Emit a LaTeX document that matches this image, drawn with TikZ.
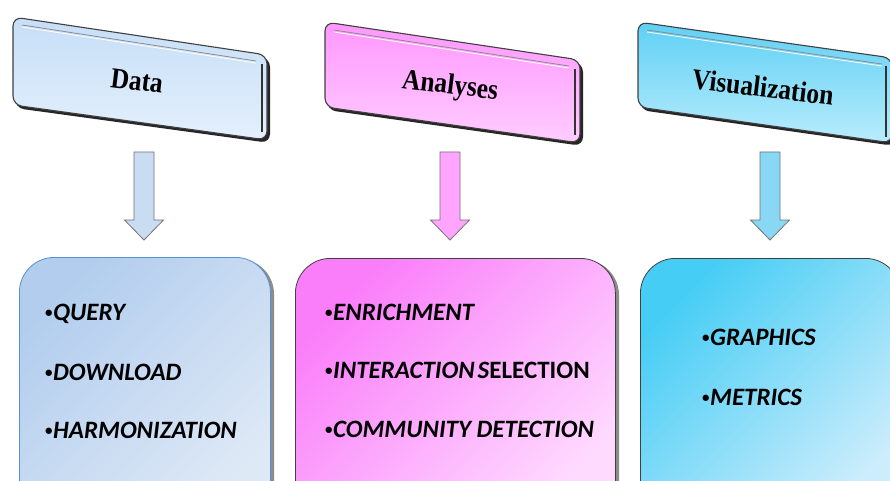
\documentclass[tikz,border=0pt]{standalone}
\usepackage{fontspec}
\setmainfont{Liberation Serif}
\newfontfamily\calib{Carlito}
\usetikzlibrary{calc}
\definecolor{dTopA}{RGB}{198,222,248}
\definecolor{dTopB}{RGB}{228,240,252}
\definecolor{aTopA}{RGB}{255,150,255}
\definecolor{aTopB}{RGB}{255,205,255}
\definecolor{vTopA}{RGB}{95,208,245}
\definecolor{vTopB}{RGB}{185,236,252}
\definecolor{dBotA}{RGB}{178,205,238}
\definecolor{dBotB}{RGB}{222,233,246}
\definecolor{aBotA}{RGB}{250,125,250}
\definecolor{aBotB}{RGB}{255,218,255}
\definecolor{vBotA}{RGB}{70,205,245}
\definecolor{vBotB}{RGB}{205,237,252}
\definecolor{dArr}{RGB}{200,220,242}
\definecolor{aArr}{RGB}{255,165,255}
\definecolor{vArr}{RGB}{135,215,245}
\definecolor{dEdge}{RGB}{85,145,205}
\tikzset{
  toptext/.style={font=\fontsize{29}{32}\selectfont\bfseries, inner sep=0pt, rotate=-7, xscale=0.88},
  topshadow/.style={fill=black!85, rounded corners=9pt},
  topbox/.style={draw=black!75, line width=1.1pt, rounded corners=9pt, shading angle=0},
  botbox/.style={rounded corners=35pt, minimum width=251pt, minimum height=260pt, anchor=north west, line width=0.8pt, shading angle=45},
  botshadow/.style={fill=black!45, rounded corners=35pt},
  item/.style={font=\calib\fontsize{25}{30}\selectfont\bfseries\itshape, anchor=base west, inner sep=0pt},
  blockarrow/.style={draw=black!55, line width=0.8pt},
}
\newcommand\bul{\raisebox{0.2ex}{\upshape\fontsize{15}{15}\selectfont\textbullet}\kern0.5pt}
\begin{document}
\begin{tikzpicture}[x=1pt,y=-1pt]
\clip (0,0) rectangle (890,481);
\fill[white] (0,0) rectangle (890,481);

% ---------- top slanted boxes ----------
% Data
\fill[topshadow] (15,19) -- (270,58) -- (270,143) -- (15,108) -- cycle;
\shade[topbox, top color=dTopA, bottom color=dTopB] (13,17) -- (267,55) -- (267,140) -- (13,105) -- cycle;
\draw[black!45, line width=0.8pt] (22,25) -- (256,61);
\draw[white, line width=0.8pt] (22,27) -- (256,63);
\draw[black!80, line width=1.6pt] (262,64) -- (262,132);
\node[toptext] (tdata) at (137,81) {Data};

% Analyses
\fill[topshadow] (327,24) -- (583,63) -- (583,146) -- (327,110) -- cycle;
\shade[topbox, top color=aTopA, bottom color=aTopB] (325,22) -- (580,60) -- (580,143) -- (325,107) -- cycle;
\draw[black!45, line width=0.8pt] (334,30) -- (569,66);
\draw[white, line width=0.8pt] (334,32) -- (569,68);
\draw[black!80, line width=1.6pt] (575,69) -- (575,135);
\node[toptext] (tanal) at (450,87) {Analyses};

% Visualization
\fill[topshadow] (640,24) -- (895,61) -- (895,146) -- (640,110) -- cycle;
\shade[topbox, top color=vTopA, bottom color=vTopB] (638,22) -- (892,58) -- (892,143) -- (638,107) -- cycle;
\draw[black!45, line width=0.8pt] (647,30) -- (882,64);
\draw[white, line width=0.8pt] (647,32) -- (882,66);
\draw[black!80, line width=1.6pt] (886,66) -- (886,137);
\node[toptext] (tvis) at (763,87) {Visualization};

% ---------- block arrows ----------
\coordinate (dA) at (144,152); \coordinate (dT) at (144,240);
\coordinate (aA) at (450,152); \coordinate (aT) at (450,240);
\coordinate (vA) at (770,152); \coordinate (vT) at (770,240);
\draw[blockarrow, fill=dArr] ($(dA)+(-10,0)$) -- ($(dA)+(10,0)$) -- ($(dT)+(10,-20)$) -- ($(dT)+(19.5,-20)$) -- (dT) -- ($(dT)+(-19.5,-20)$) -- ($(dT)+(-10,-20)$) -- cycle;
\draw[blockarrow, fill=aArr] ($(aA)+(-10,0)$) -- ($(aA)+(10,0)$) -- ($(aT)+(10,-20)$) -- ($(aT)+(19.5,-20)$) -- (aT) -- ($(aT)+(-19.5,-20)$) -- ($(aT)+(-10,-20)$) -- cycle;
\draw[blockarrow, fill=vArr] ($(vA)+(-10,0)$) -- ($(vA)+(10,0)$) -- ($(vT)+(10,-20)$) -- ($(vT)+(19.5,-20)$) -- (vT) -- ($(vT)+(-19.5,-20)$) -- ($(vT)+(-10,-20)$) -- cycle;

% ---------- bottom boxes ----------
\fill[botshadow] (22,259) rectangle (274,520);
\node[botbox, draw=dEdge, top color=dBotA, bottom color=dBotB, shading angle=45] (bdata) at (19,257) {};
\fill[botshadow] (298,260) rectangle (619,520);
\node[botbox, minimum width=320pt, draw=black!75, top color=aBotA, bottom color=aBotB, shading angle=45] (banal) at (295,258) {};
\fill[botshadow] (643,260) rectangle (900,520);
\node[botbox, minimum width=260pt, draw=black!75, top color=vBotA, bottom color=vBotB, shading angle=45] (bvis) at (640,258) {};

% ---------- items ----------
\node[item] (q) at (45,320) {\bul QUERY};
\node[item] (dl) at (45,380) {\bul DOWNLOAD};
\node[item] (h) at (45,438) {\bul HARMONIZATION};
\node[item] (en) at (325,320) {\bul ENRICHMENT};
\node[item] (is) at (325,378) {\bul INTERACTION\kern3pt S\upshape ELECTION};
\node[item] (cd) at (325,437) {\bul COMMUNITY DETECTION};
\node[item] (gr) at (702,345) {\bul GRAPHICS};
\node[item] (me) at (702,405) {\bul METRICS};
\end{tikzpicture}
\end{document}
